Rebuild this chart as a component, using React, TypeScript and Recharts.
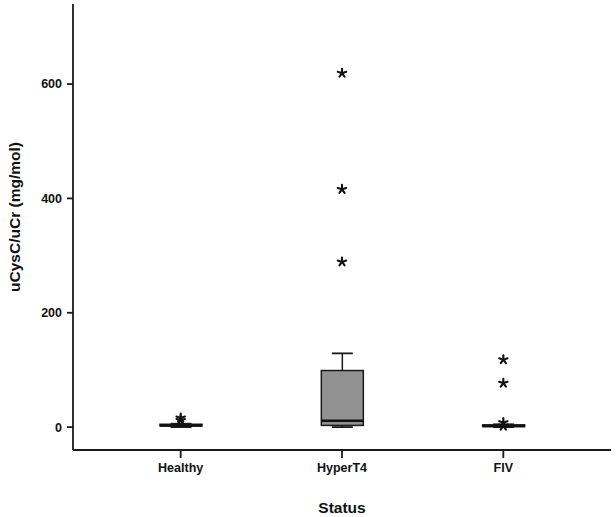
import React from 'react';
import { ComposedChart, Bar, Scatter, XAxis, YAxis } from 'recharts';

// box plot summary per status group
const categories = ['Healthy', 'HyperT4', 'FIV'];
const whiskerLow = [0, 0, 0];
const quartile1 = [2, 3, 1];
const medians = [3, 11, 2];
const quartile3 = [5, 99, 4];
const whiskerHigh = [6, 129, 5];

// extreme values (drawn as asterisks)
const outlierStatus = ['Healthy', 'Healthy', 'HyperT4', 'HyperT4', 'HyperT4', 'FIV', 'FIV', 'FIV', 'FIV'];
const outlierValues = [12, 16, 289, 416, 619, 118, 77, 8, 2];

const yTicks = [0, 200, 400, 600];

const boxData = categories.map((status, i) => ({
  status,
  range: [whiskerLow[i], whiskerHigh[i]],
  low: whiskerLow[i],
  q1: quartile1[i],
  median: medians[i],
  q3: quartile3[i],
  high: whiskerHigh[i],
}));

const outlierData = outlierStatus.map((status, i) => ({ status, value: outlierValues[i] }));

const FONT = '"Liberation Sans", Arial, Helvetica, sans-serif';
const INK = '#1a1a1a';

// box + whiskers, interior positions taken from the bar's own scaled span
const BoxShape = (props: any) => {
  const { x, y, width, height, payload } = props;
  if (x == null || y == null) return null;
  const top = Math.min(y, y + height);
  const span = Math.abs(height);
  const { low, high, q1, q3, median } = payload;
  const toY = (v: number) => top + ((high - v) / (high - low)) * span;
  const cx = x + width / 2;
  const capHalf = width / 4;
  return (
    <g>
      <line x1={cx} x2={cx} y1={toY(high)} y2={toY(q3)} stroke={INK} strokeWidth={1.5} />
      <line x1={cx} x2={cx} y1={toY(q1)} y2={toY(low)} stroke={INK} strokeWidth={1.5} />
      <line x1={cx - capHalf} x2={cx + capHalf} y1={toY(high)} y2={toY(high)} stroke={INK} strokeWidth={1.8} />
      <line x1={cx - capHalf} x2={cx + capHalf} y1={toY(low)} y2={toY(low)} stroke={INK} strokeWidth={1.8} />
      <rect x={x} y={toY(q3)} width={width} height={Math.max(toY(q1) - toY(q3), 0.5)} fill="#929292" stroke={INK} strokeWidth={1.5} />
      <line x1={x} x2={x + width} y1={toY(median)} y2={toY(median)} stroke="#111" strokeWidth={2.5} />
    </g>
  );
};

const Asterisk = (props: any) => {
  const { cx, cy } = props;
  if (cx == null || cy == null) return null;
  const r = 4.4;
  const arms = [0, 1, 2, 3, 4].map((k) => {
    const a = (-90 + k * 72) * (Math.PI / 180);
    return <line key={k} x1={cx} y1={cy} x2={cx + r * Math.cos(a)} y2={cy + r * Math.sin(a)} stroke="#111" strokeWidth={2.1} strokeLinecap="round" />;
  });
  return <g>{arms}</g>;
};

const YTitle = () => (
  <text x={14} y={217} transform="rotate(-90 14 217)" textAnchor="middle" dominantBaseline="central"
    fontFamily={FONT} fontWeight="bold" fontSize={15.5} fill="#111">
    uCysC/uCr (mg/mol)
  </text>
);

const XTitle = () => (
  <text x={342} y={507} textAnchor="middle" dominantBaseline="central"
    fontFamily={FONT} fontWeight="bold" fontSize={15.5} fill="#111">
    Status
  </text>
);

export default function App() {
  const tickStyle = { fontFamily: FONT, fontWeight: 'bold', fontSize: 12.5, fill: '#111' };
  return (
    <div style={{ position: 'absolute', left: 0, top: 0, width: 616, height: 517, background: '#fff' }}>
      <ComposedChart width={616} height={517} data={boxData} margin={{ top: 4, right: 5, left: 0, bottom: 0 }}>
        <XAxis
          dataKey="status"
          type="category"
          allowDuplicatedCategory={false}
          padding={{ left: 27, right: 27 }}
          height={67}
          tickSize={8}
          tickMargin={5}
          tick={tickStyle}
          stroke={INK}
          axisLine={{ stroke: INK, strokeWidth: 1.8 }}
          tickLine={{ stroke: INK, strokeWidth: 1.8 }}
          label={<XTitle />}
        />
        <XAxis xAxisId="top" orientation="top" dataKey="status" height={0} tick={false} tickLine={false}
          axisLine={{ stroke: INK, strokeWidth: 1.8 }} allowDuplicatedCategory={false} />
        <YAxis
          domain={[-40, 740]}
          ticks={yTicks}
          allowDataOverflow
          width={73}
          tickSize={6}
          tickMargin={5}
          tick={tickStyle}
          axisLine={{ stroke: INK, strokeWidth: 1.8 }}
          tickLine={{ stroke: INK, strokeWidth: 1.8 }}
          label={<YTitle />}
        />
        <YAxis yAxisId="right" orientation="right" width={0} domain={[-40, 740]} tick={false} tickLine={false}
          axisLine={{ stroke: INK, strokeWidth: 1.8 }} />
        <Bar dataKey="range" barSize={42} shape={<BoxShape />} isAnimationActive={false} />
        <Scatter data={outlierData} dataKey="value" shape={<Asterisk />} isAnimationActive={false} />
      </ComposedChart>
    </div>
  );
}
